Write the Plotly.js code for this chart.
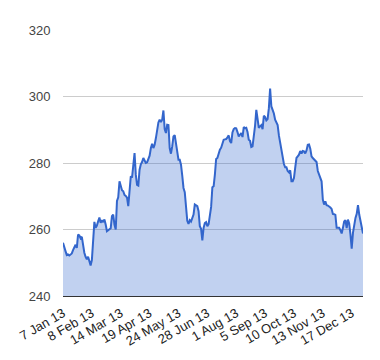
<!DOCTYPE html>
<html>
<head>
<meta charset="utf-8">
<script src="https://cdn.plot.ly/plotly-3.0.1.min.js"></script>
<style>html,body{margin:0;padding:0;background:#fff;}#chart{width:380px;height:360px;}</style>
</head>
<body>
<div id="chart"></div>
<script>
// Daily values (trading days, 7 Jan 2013 - 31 Dec 2013)
const values = [
256,255,253.5,252.3,252.5,252.2,252.4,252.8,253.8,254.8,
255.4,254.5,258.5,258.2,257.4,257.8,255,253,251.8,251,
251.8,250.5,249.2,250.8,257.5,262.3,260.5,261.2,262.5,263.6,
262,262.8,262.2,263,261.5,259.5,259.8,260.1,260.4,264,
264.5,261.5,260,268.6,269.7,274.5,273.2,271.8,271.5,270.4,
270.1,269.6,267,272,276,275.6,278.5,283,276.5,273.4,
273.2,278,279.6,280.3,281.5,280.8,280,280.2,281.5,282.2,
284.5,285.8,284.5,285.5,287.5,290,292.2,293,292.3,293,
295.8,290.2,289,291.5,291.4,284.5,282.8,285,288,288.4,
285.5,282.2,281,281,279.5,276.2,272.5,271.2,266.5,262.6,
261.7,262.8,262.4,263.2,264.5,267.5,267.2,267,265.5,261,
260.2,256.7,260.5,261.9,262.2,261,261.6,264.5,266.8,272.7,
273,276.5,281.2,281.5,283.2,284,284.6,286.2,287,287.1,
287.2,287.7,288.3,286.6,286,289.2,290.2,290.5,290.4,289.3,
288,288.5,289,287.8,290.8,290.5,290.6,289.3,287,286.7,
284.8,285,287.5,291.2,296,293.3,290.6,291,291.4,290.2,
294.2,293.8,292.8,293.2,296.5,302.4,297,296,294.9,293,
292.2,291.4,288.3,286,283.3,281.4,279.7,278.7,278.7,277.6,
277.2,277.8,274.5,274.5,275.5,278.6,281.5,282,282.5,283.6,
282.8,283.6,283.5,282.9,283.8,285.5,285.6,284.3,282,281.5,
281.1,280.6,280.3,277.6,276.5,275.4,274.5,269,267.5,268.5,
267.3,267.2,267,266.6,266.2,264.7,264.6,264.4,260.5,260.6,
260.5,259.8,258.8,260.5,262.4,262.8,260.4,263,261.8,258.5,
254.2,259,261.8,263.5,264.7,267.3,264.5,262.3,260.3,258.8
];
// Category labels shown on the axis (every 23rd trading day)
const tickIndex = [0,23,46,69,92,115,138,161,184,207,230];
const tickLabels = ["7 Jan 13","8 Feb 13","14 Mar 13","19 Apr 13","24 May 13","28 Jun 13","1 Aug 13","5 Sep 13","10 Oct 13","13 Nov 13","17 Dec 13"];
const yTicks = [240,260,280,300,320];

const xs = values.map((v,i)=>i);
const trace = {
  x: xs, y: values, type:'scatter', mode:'lines',
  line:{color:'#3366cc', width:2},
  fill:'tozeroy', fillcolor:'rgba(51,102,204,0.3)',
  hoverinfo:'skip'
};
const layout = {
  width:380, height:360,
  margin:{l:63, r:17, t:30, b:64},
  paper_bgcolor:'#fff', plot_bgcolor:'#fff',
  showlegend:false,
  font:{family:'Arial, "Liberation Sans", sans-serif', size:13, color:'#222'},
  xaxis:{
    range:[0, values.length-1], tickmode:'array', tickvals:tickIndex, ticktext:tickLabels,
    tickangle:-30, showgrid:false, zeroline:false,
    showline:true, linecolor:'#333', linewidth:1,
    ticks:'outside', ticklen:4, tickcolor:'rgba(0,0,0,0)',
    tickfont:{size:13, color:'#222'}
  },
  yaxis:{
    range:[240,320], tickmode:'array', tickvals:yTicks,
    showgrid:true, gridcolor:'#cccccc', gridwidth:1, zeroline:false,
    ticks:'outside', ticklen:9, tickcolor:'rgba(0,0,0,0)',
    tickfont:{size:13, color:'#444'}
  }
};
Plotly.newPlot('chart',[trace],layout,{staticPlot:true, displayModeBar:false});
</script>
</body>
</html>
